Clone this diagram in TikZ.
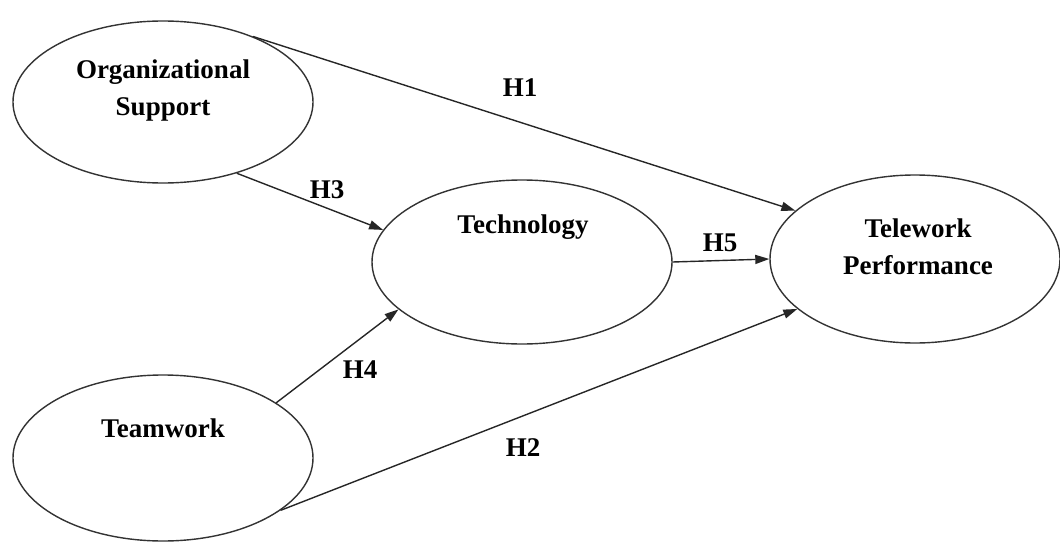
\documentclass[tikz,border=0pt]{standalone}
\usepackage{fontspec}
\setmainfont{Liberation Serif}
\usetikzlibrary{shapes.geometric,arrows.meta}
\begin{document}
\begin{tikzpicture}[x=1pt,y=-1pt,
  construct/.style={draw=black!80,line width=1.4pt,ellipse,inner sep=0pt},
  lbl/.style={font=\fontsize{27}{37}\selectfont\bfseries,align=center,inner sep=0pt},
  path/.style={draw=black!85,line width=1.4pt,-{Triangle[length=14pt,width=9pt]}}]
\useasboundingbox (0,0) rectangle (1060,543);
\node[construct,minimum width=300pt,minimum height=162pt] (os) at (163,102) {};
\node[construct,minimum width=300pt,minimum height=164pt] (tech) at (522,262) {};
\node[construct,minimum width=290pt,minimum height=168pt] (tele) at (915,259) {};
\node[construct,minimum width=300pt,minimum height=166pt] (team) at (163,458) {};
\node[lbl] (ostxt) at (163,91) {Organizational\\Support};
\node[lbl] (techtxt) at (523,227) {Technology};
\node[lbl] (teletxt) at (918,247) {Telework\\Performance};
\node[lbl] (teamtxt) at (163,428) {Teamwork};
\draw[path] (os.36) -- (tele.158.6);
\draw[path] (os.-44.6) -- (tech.167.8);
\draw[path] (tech.east) -- (tele.west);
\draw[path] (team.26.2) -- (tech.201.5);
\draw[path] (team.-24) -- (tele.203);
\node[lbl] (h1) at (520,88) {H1};
\node[lbl] (h3) at (327,190) {H3};
\node[lbl] (h5) at (720,243) {H5};
\node[lbl] (h4) at (360,370) {H4};
\node[lbl] (h2) at (523,448) {H2};
\end{tikzpicture}
\end{document}
